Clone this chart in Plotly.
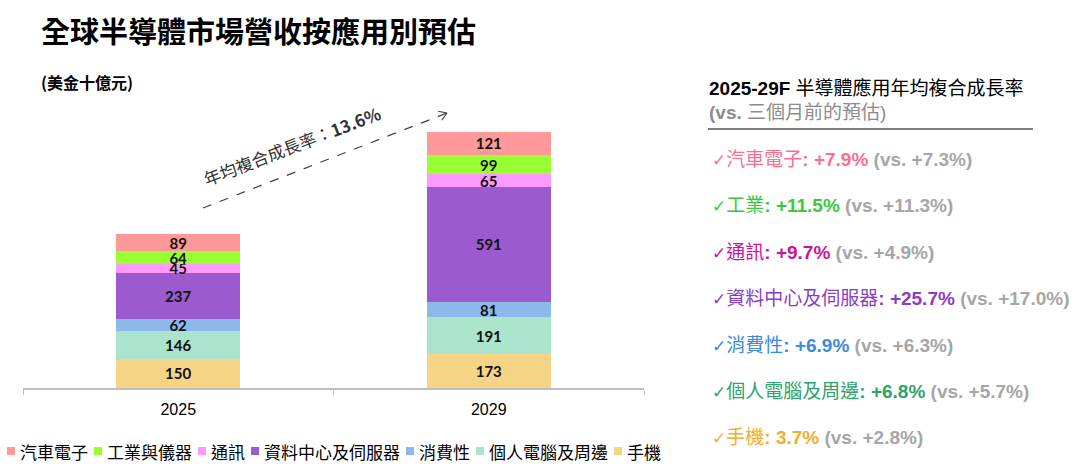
import numpy as np
import plotly.graph_objects as go

years = ["2025", "2029"]
# stacking order: bottom -> top
segments = ["手機", "個人電腦及周邊", "消費性", "資料中心及伺服器", "通訊", "工業與儀器", "汽車電子"]
values = {
    "手機": [150, 173],
    "個人電腦及周邊": [146, 191],
    "消費性": [62, 81],
    "資料中心及伺服器": [237, 591],
    "通訊": [45, 65],
    "工業與儀器": [64, 99],
    "汽車電子": [89, 121],
}
colors = {
    "手機": "#F5D486",
    "個人電腦及周邊": "#AAE4CC",
    "消費性": "#8DB9E8",
    "資料中心及伺服器": "#9B5BCF",
    "通訊": "#FF99FF",
    "工業與儀器": "#99FF33",
    "汽車電子": "#FF9999",
}
legend_order = ["汽車電子", "工業與儀器", "通訊", "資料中心及伺服器", "消費性", "個人電腦及周邊", "手機"]
total_labels = ["793", "1,320"]
cagr_label = "年均複合成長率："
cagr_value = "13.6%"

# right panel texts
panel_title = "2025-29F"
panel_title_rest = " 半導體應用年均複合成長率"
panel_sub_a = "(vs."
panel_sub_b = " 三個月前的預估)"
panel_items = ["汽車電子", "工業", "通訊", "資料中心及伺服器", "消費性", "個人電腦及周邊", "手機"]
panel_rates = ["+7.9%", "+11.5%", "+9.7%", "+25.7%", "+6.9%", "+6.8%", "3.7%"]
panel_prev = ["+7.3%", "+11.3%", "+4.9%", "+17.0%", "+6.3%", "+5.7%", "+2.8%"]
panel_colors = ["#F7708F", "#3CC83C", "#C8139C", "#8A3CC6", "#3A8BDD", "#2FA36B", "#F0AE2E"]

W, H = 1080, 469
LAT = "Liberation Sans, Arial, Noto Sans CJK TC, sans-serif"
CJK = "Noto Sans CJK TC, Liberation Sans, sans-serif"
NUM = "Lato, Liberation Sans, sans-serif"


def px(x):
    return x / W


def py(y):
    return (H - y) / H


fig = go.Figure()
for s in segments:
    fig.add_trace(go.Bar(
        x=years, y=values[s], name=s,
        marker=dict(color=colors[s], line=dict(width=0)),
        text=[str(v) for v in values[s]],
        textposition="inside", insidetextanchor="middle",
        textangle=0, constraintext="none",
        textfont=dict(family=NUM, size=15, color="#111111", weight="bold"),
        showlegend=False,
        hoverinfo="skip",
    ))

totals = [sum(values[s][i] for s in segments) for i in range(len(years))]
shifts = [26, 19]
annotations = []
for i, yv in enumerate(years):
    annotations.append(dict(
        x=yv, y=totals[i], xref="x", yref="y", text="<b>%s</b>" % total_labels[i],
        showarrow=False, yshift=shifts[i], font=dict(family=NUM, size=18, color="#111111"),
    ))

# CAGR arrow (dashed) + rotated text
x0, y0, x1, y1 = 203, 208, 447, 113
shapes = [dict(type="line", xref="paper", yref="paper", x0=px(x0), y0=py(y0), x1=px(x1), y1=py(y1),
               line=dict(color="#404040", width=1.2, dash="dash"))]
ang = np.arctan2(y1 - y0, x1 - x0)
for da in (np.pi * 0.82, -np.pi * 0.82):
    hx = x1 + 9 * np.cos(ang + da)
    hy = y1 + 9 * np.sin(ang + da)
    shapes.append(dict(type="line", xref="paper", yref="paper", x0=px(x1), y0=py(y1), x1=px(hx), y1=py(hy),
                       line=dict(color="#404040", width=1.2)))
annotations.append(dict(
    x=px(292), y=py(146), xref="paper", yref="paper", showarrow=False,
    xanchor="center", yanchor="middle",
    text="%s<b>%s</b>" % (cagr_label, cagr_value), textangle=-21,
    font=dict(family=CJK, size=17, color="#333333"),
))

# titles
annotations.append(dict(x=px(39), y=py(30), xref="paper", yref="paper", xanchor="left", yanchor="middle",
                        showarrow=False, text="<b>全球半導體市場營收按應用別預估</b>",
                        font=dict(family=CJK, size=29, color="#000000")))
annotations.append(dict(x=px(39), y=py(82), xref="paper", yref="paper", xanchor="left", yanchor="middle",
                        showarrow=False, text="<b>(美金十億元)</b>",
                        font=dict(family=CJK, size=16, color="#000000")))

# manual legend (squares + labels), laid out by label length
LFS = 17
lx = 7
for name in legend_order:
    shapes.append(dict(type="rect", xref="paper", yref="paper", x0=px(lx), x1=px(lx + 8),
                       y0=py(455), y1=py(447), fillcolor=colors[name], line=dict(width=0)))
    annotations.append(dict(x=px(lx + 11), y=py(451), xref="paper", yref="paper", xanchor="left",
                            yanchor="middle", showarrow=False, text=name,
                            font=dict(family=CJK, size=LFS, color="#000000")))
    lx += 8 + 4 + len(name) * LFS + 7

# right panel
annotations.append(dict(x=px(707), y=py(88), xref="paper", yref="paper", xanchor="left", yanchor="middle",
                        showarrow=False, text="<b>%s</b>%s" % (panel_title, panel_title_rest),
                        font=dict(family=LAT, size=19, color="#000000")))
annotations.append(dict(x=px(707), y=py(113), xref="paper", yref="paper", xanchor="left", yanchor="middle",
                        showarrow=False, text="<b>%s</b>%s" % (panel_sub_a, panel_sub_b),
                        font=dict(family=LAT, size=19, color="#8C8C8C")))
shapes.append(dict(type="line", xref="paper", yref="paper", x0=px(708), x1=px(1033), y0=py(129), y1=py(129),
                   line=dict(color="#7F7F7F", width=2)))
item_y = [159, 206, 252, 298, 345, 391, 437]
for i, name in enumerate(panel_items):
    c = panel_colors[i]
    txt = ("<span style='color:%s'><span style='font-family:DejaVu Sans;font-size:17px'>✓</span>%s<b>:</b> "
           "<b>%s</b></span> <span style='color:#A6A6A6'><b>(vs. %s)</b></span>") % (
        c, name, panel_rates[i], panel_prev[i])
    annotations.append(dict(x=px(710), y=py(item_y[i]), xref="paper", yref="paper", xanchor="left",
                            yanchor="middle", showarrow=False, text=txt,
                            font=dict(family=LAT, size=19, color=c)))

fig.update_layout(
    width=W, height=H,
    margin=dict(l=0, r=0, t=0, b=0),
    paper_bgcolor="white", plot_bgcolor="white",
    barmode="stack", bargap=0.6,
    uniformtext=dict(minsize=15, mode="show"),
    showlegend=False,
    xaxis=dict(domain=[px(23), px(644)], range=[-0.5, 1.5], showline=True, linecolor="#BFBFBF", linewidth=1.5,
               ticks="outside", tickson="boundaries", ticklen=5, tickcolor="#BFBFBF",
               ticklabelstandoff=6,
               tickfont=dict(family=LAT, size=16, color="#000000"), showgrid=False, zeroline=False),
    yaxis=dict(domain=[py(388), py(97)], range=[0, 1500], visible=False, showgrid=False),
    annotations=annotations, shapes=shapes,
    font=dict(family=LAT),
)

fig.write_html("out.html", config={"displayModeBar": False},
               post_script="document.body.style.margin='0';document.body.style.overflow='hidden';")
